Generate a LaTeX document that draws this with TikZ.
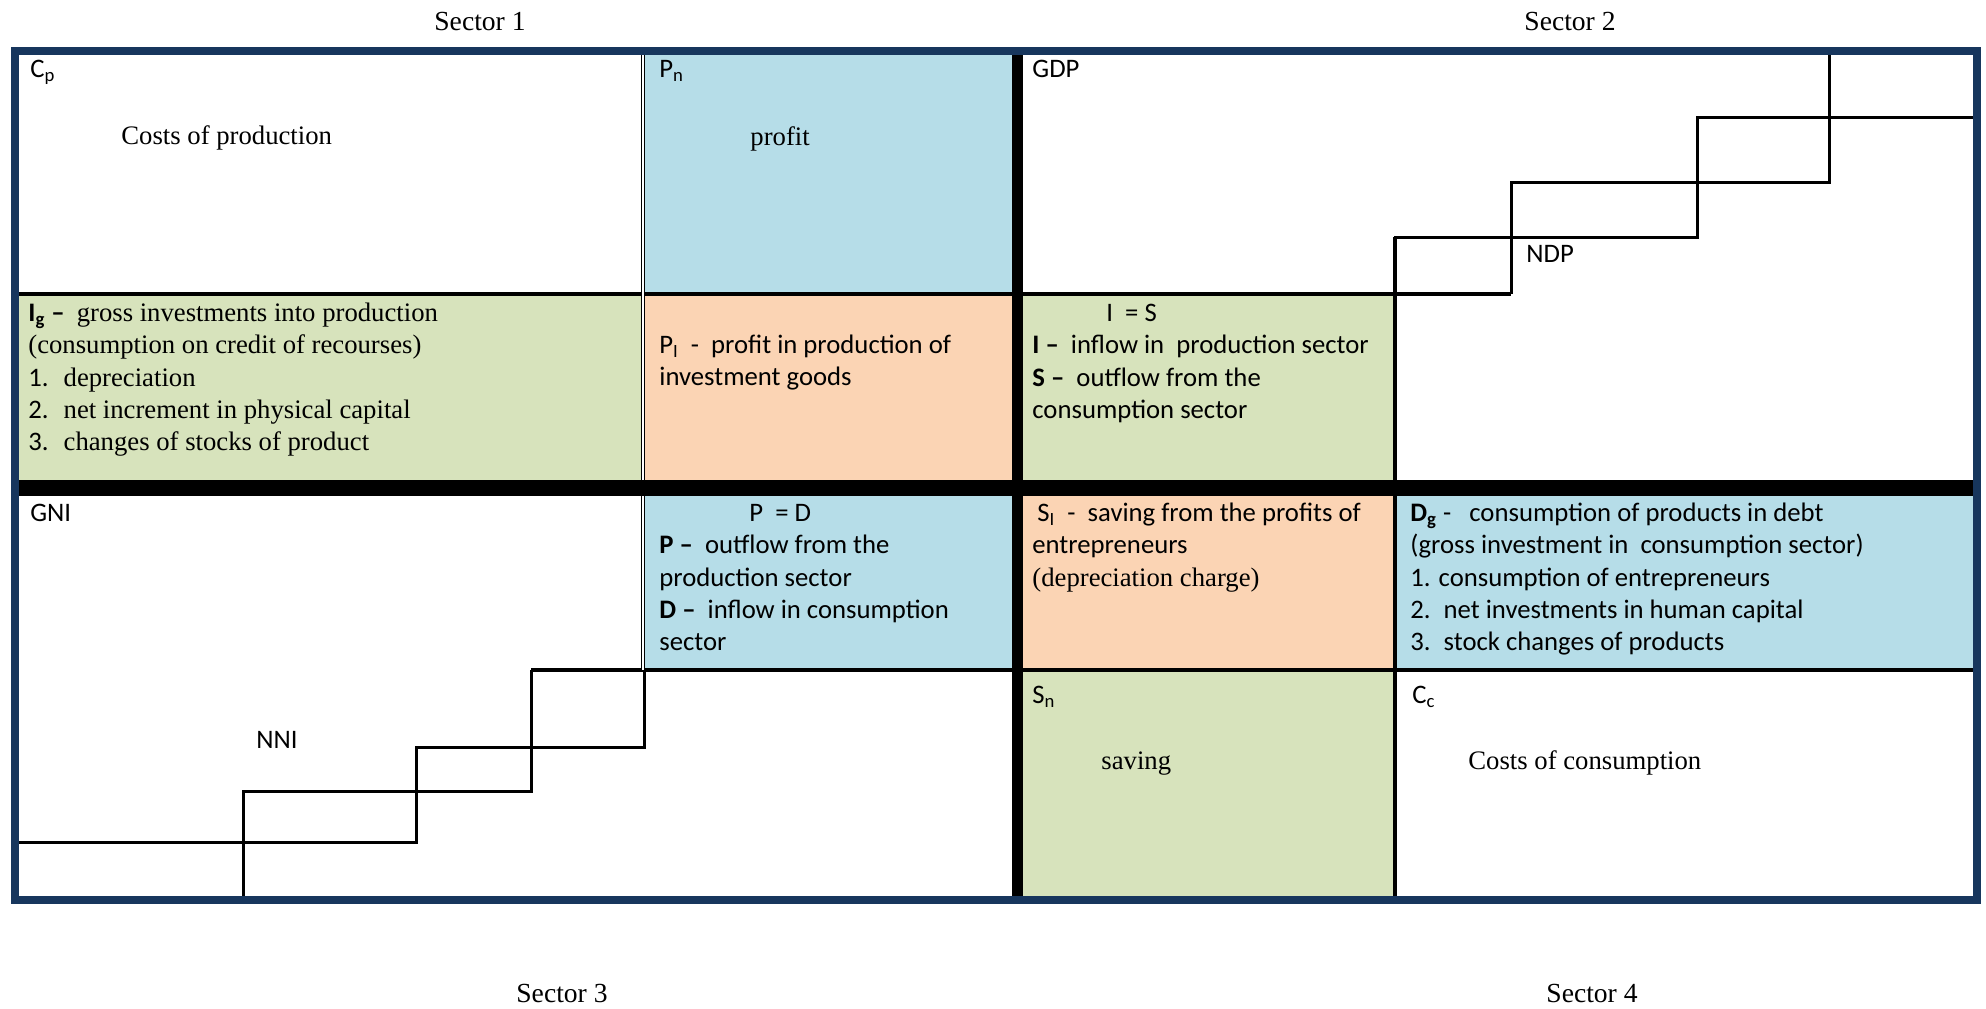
\documentclass[tikz,border=0pt]{standalone}
\usepackage{fontspec}
\setmainfont{Liberation Serif}
\newfontfamily\calibri{Carlito}
\definecolor{navy}{HTML}{17365D}
\definecolor{lightblue}{HTML}{B6DDE8}
\definecolor{lightgreen}{HTML}{D7E3BC}
\definecolor{lightorange}{HTML}{FBD4B4}
\newcommand{\cellsize}{\fontsize{13.35}{16.15}\selectfont}
\tikzset{
  outerframe/.style={draw=navy, line width=4pt},
  thickrule/.style={draw=black, line width=5.5pt},
  widerule/.style={draw=black, line width=8pt},
  thinrule/.style={draw=black, line width=2pt},
  colrule/.style={draw=black, line width=1.8pt},
  doublerule/.style={draw=black, line width=0.65pt, double=white, double distance=0.85pt},
  stairs/.style={draw=black, line width=1.5pt},
  celltext/.style={anchor=base west, inner sep=0pt, align=left, font=\calibri\cellsize},
  cellblock/.style={celltext, anchor=north west},
  serif/.style={celltext, font=\rmfamily\cellsize},
  sector/.style={anchor=base, inner sep=0pt, font=\rmfamily\fontsize{13.8}{16}\selectfont}
}

\begin{document}
\begin{tikzpicture}[x=0.5pt, y=-0.5pt]
\useasboundingbox (0,0) rectangle (1986,1008);
% coloured cells
\fill[lightblue] (643,51) rectangle (1017,294);
\fill[lightblue] (643,488) rectangle (1017,670);
\fill[lightblue] (1395,488) rectangle (1977,670);
\fill[lightgreen] (15,294) rectangle (643,488);
\fill[lightgreen] (1017,294) rectangle (1395,488);
\fill[lightgreen] (1017,670) rectangle (1395,900);
\fill[lightorange] (643,294) rectangle (1017,488);
\fill[lightorange] (1017,488) rectangle (1395,670);
% grid
\draw[thinrule] (15,294) -- (1511,294);
\draw[thinrule] (531,670) -- (1977,670);
\draw[colrule] (1395,237) -- (1395,900);
\draw[doublerule] (643,51) -- (643,670);
\draw[widerule] (15,488) -- (1977,488);
\draw[thickrule] (1017,51) -- (1017,900);
% staircases
\draw[stairs] (1829,51) |- (1511,182) -- (1511,294);
\draw[stairs] (1977,117) -| (1697,237) -| (1395,294);
\draw[stairs] (644,670) |- (416,747) |- (15,842);
\draw[stairs] (531,670) |- (243,791) -- (243,900);
\draw[outerframe] (15,51) rectangle (1977,900);

\node[sector] (sec1) at (480,30) {Sector 1};
\node[sector] (sec2) at (1570,30) {Sector 2};
\node[sector] (sec3) at (562,1002) {Sector 3};
\node[sector] (sec4) at (1592,1002) {Sector 4};

\node[celltext] (cp) at (30,77) {C\textsubscript{p}};
\node[serif] (costprod) at (121,144) {Costs of production};
\node[celltext] (pn) at (659,77) {P\textsubscript{n}};
\node[serif] (profit) at (750,145) {profit};
\node[celltext] (gdp) at (1032,77) {GDP};
\node[celltext] (ndp) at (1526,262) {NDP};

\node[cellblock] (ig) at (28,298.4) {\strut\textbf{I\textsubscript{g} –}\ \ {\rmfamily gross investments into production}\\
  {\rmfamily (consumption on credit of recourses)}\\
  1.\hspace{7.5pt}{\rmfamily depreciation}\\
  2.\hspace{7.5pt}{\rmfamily net increment in physical capital}\\
  3.\hspace{7.5pt}{\rmfamily changes of stocks of product}};
\node[cellblock] (pi) at (659,330.4) {\strut P\textsubscript{I}\ \ -\ \ profit in production of\\investment goods};
\node[cellblock] (is) at (1032,298.4) {\strut\hspace*{37pt}I\ \ =\ S\\
  \textbf{I –}\ \ inflow in\ \ production sector\\
  \textbf{S –}\ \ outflow from the\\
  consumption sector};

\node[celltext] (gni) at (30,521) {GNI};
\node[celltext] (nni) at (256,748) {NNI};
\node[cellblock] (pd) at (659,498.4) {\strut\hspace*{45pt}P\ \ = D\\
  \textbf{P –}\ \ outflow from the\\
  production sector\\
  \textbf{D –}\ \ inflow in consumption\\
  sector};
\node[cellblock] (si) at (1032,498.4) {\strut\hspace*{2.5pt}S\textsubscript{I}\ \ -\ \ saving from the profits of\\
  entrepreneurs\\
  {\rmfamily (depreciation charge)}};
\node[cellblock] (dg) at (1410,498.4) {\strut\textbf{D\textsubscript{g}} -\ \ \ consumption of products in debt\\
  (gross investment in\ \ consumption sector)\\
  1. consumption of entrepreneurs\\
  2.\hspace{6.5pt}net investments in human capital\\
  3.\hspace{6.5pt}stock changes of products};

\node[celltext] (sn) at (1032,703) {S\textsubscript{n}};
\node[serif] (saving) at (1101,769) {saving};
\node[celltext] (cc) at (1412,703) {C\textsubscript{c}};
\node[serif] (costcons) at (1468,769) {Costs of consumption};
\end{tikzpicture}
\end{document}
